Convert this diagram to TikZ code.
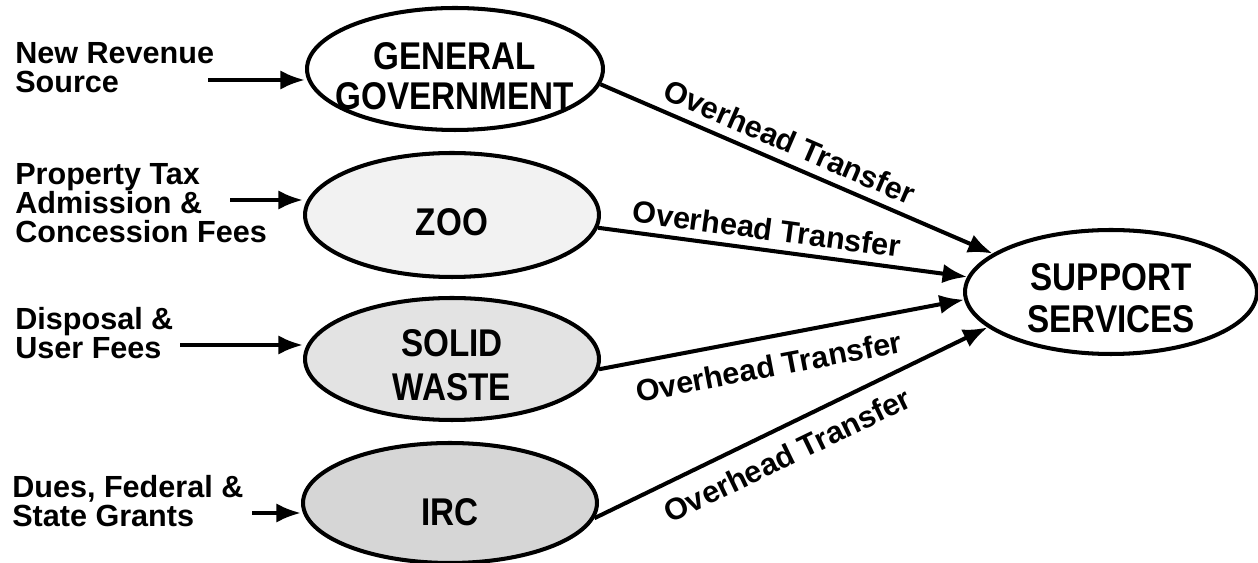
\documentclass[tikz,border=0pt]{standalone}
\usepackage{fontspec}
\setmainfont{Liberation Sans}
\newfontfamily\fundfont{Liberation Sans}[FakeStretch=0.86]
\usetikzlibrary{positioning,arrows.meta,shapes.geometric}

\begin{document}
\begin{tikzpicture}[x=0.02cm, y=-0.02cm,
    % Define styles for the funds, the side texts and the arrows
    fund node/.style={ellipse, draw, line width=2.3pt, inner sep=-20pt},
    fund text/.style={align=center, inner sep=0pt,
        font=\fundfont\fontsize{22}{22.5}\selectfont\bfseries},
    side text/.style={anchor=north west, align=left, inner sep=0pt,
        font={\fontsize{17.4}{16.4}\selectfont\bfseries\lineskiplimit-20pt\relax}},
    feed/.style={line width=2.3pt, -{Latex[length=14pt,width=11pt]}},
    overhead/.style={font=\fontsize{17.4}{17.4}\selectfont\bfseries, sloped, inner sep=2pt}
    ]

    \useasboundingbox (0,0) rectangle (1258,563);

    % Place the funds
    \node[fund node, minimum width=5.92cm, minimum height=2.44cm] (gg) at (455,69) {};
    \node[fund node, minimum width=5.88cm, minimum height=2.48cm, fill=gray!10] (zoo) at (452,215) {};
    \node[fund node, minimum width=5.88cm, minimum height=2.44cm, fill=gray!22] (sw) at (452,359) {};
    \node[fund node, minimum width=5.88cm, minimum height=2.40cm, fill=gray!32] (irc) at (450,503) {};
    \node[fund node, minimum width=5.84cm, minimum height=2.48cm] (ss) at (1111,292) {};

    \node[fund text] (gg text) at ([yshift=-4pt]gg.center) {GENERAL\\GOVERNMENT};
    \node[fund text] (zoo text) at ([yshift=-4pt]zoo.center) {ZOO};
    \node[fund text, font=\fundfont\fontsize{22}{25}\selectfont\bfseries] (sw text) at ([yshift=-3.5pt]sw.center) {SOLID\\WASTE};
    \node[fund text] (irc text) at ([yshift=-5pt]irc.center) {IRC};
    \node[fund text, font=\fundfont\fontsize{22}{23.5}\selectfont\bfseries] (ss text) at ([yshift=-3.5pt]ss.center) {SUPPORT\\SERVICES};

    % Revenue sources
    \node[side text] (nr) at (15,42) {New Revenue\\Source};
    \node[side text] (pt) at (15,163) {Property Tax\\Admission \&\\Concession Fees};
    \node[side text] (dp) at (15,307) {Disposal \&\\User Fees};
    \node[side text] (df) at (12,475) {Dues, Federal \&\\State Grants};

    \coordinate (nr out) at (208,80);
    \coordinate (pt out) at (230,200);
    \coordinate (dp out) at (180,345);
    \coordinate (df out) at (252,513);

    % --- Draw the incoming arrows ---
    \draw[feed] (nr out) -- (nr out -| gg.west);
    \draw[feed] (pt out) -- (pt out -| zoo.west);
    \draw[feed] (dp out) -- (dp out -| sw.west);
    \draw[feed] (df out) -- (df out -| irc.west);

    % --- Overhead transfers ---
    \draw[feed] (gg.-6) -- node[overhead, above=3pt, pos=0.46] {Overhead Transfer} (ss.162);
    \draw[feed] (zoo.-5) -- node[overhead, above=2.5pt, pos=0.45] {Overhead Transfer} (ss.174);
    \draw[feed] (sw.-4) -- node[overhead, below=7pt, pos=0.45] {Overhead Transfer} (ss.183);
    \draw[feed] (irc.-6) -- node[overhead, below=6pt, pos=0.46] {Overhead Transfer} (ss.196);
\end{tikzpicture}
\end{document}
